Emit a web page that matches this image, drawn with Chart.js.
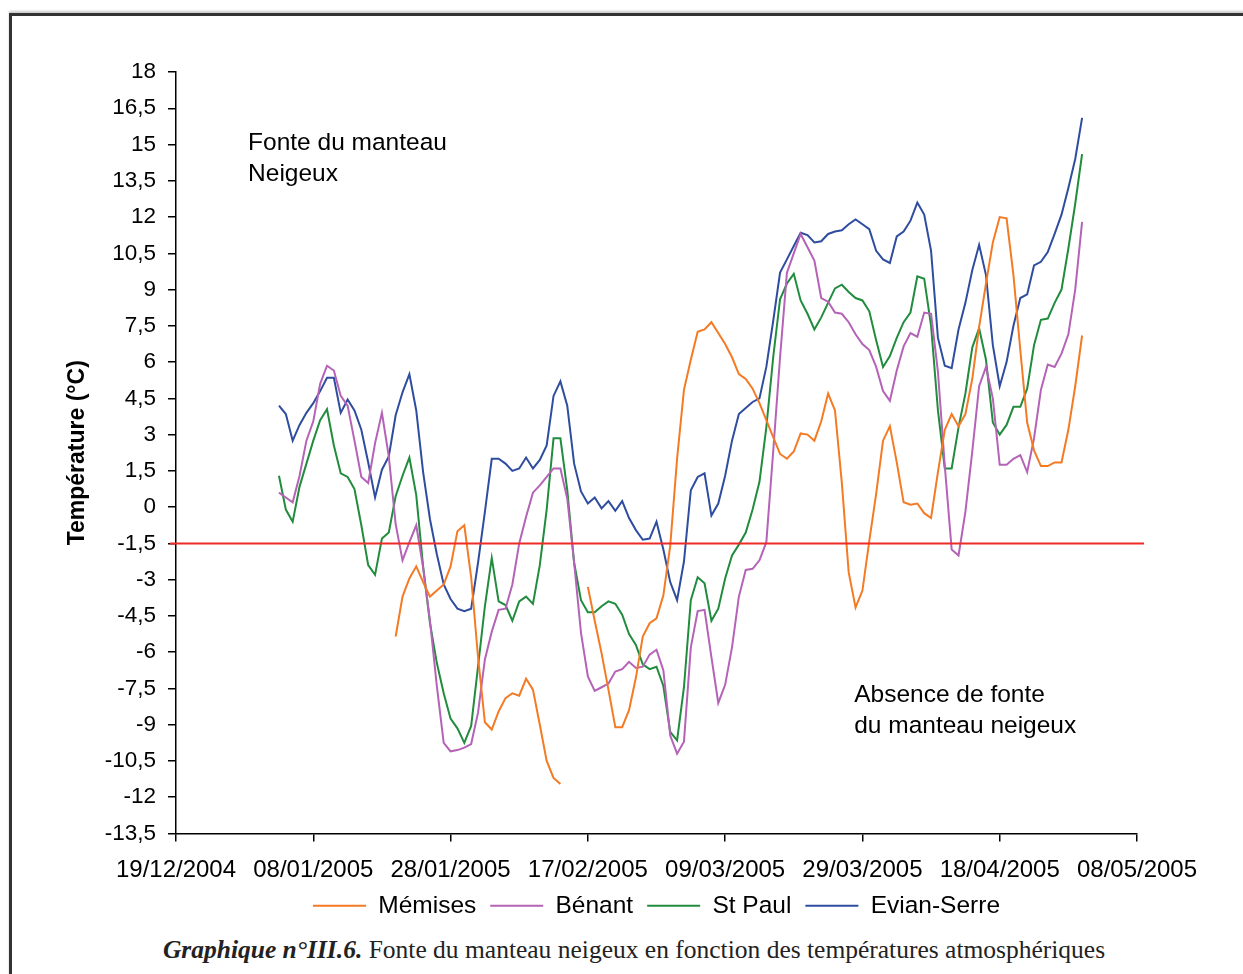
<!DOCTYPE html>
<html lang="fr">
<head>
<meta charset="utf-8">
<title>Graphique n°III.6</title>
<script src="https://cdn.jsdelivr.net/npm/chart.js@4.4.0/dist/chart.umd.min.js"></script>
<style>
  html, body { margin: 0; padding: 0; background: #fff; }
  body { width: 1243px; height: 974px; position: relative; overflow: hidden; }
  #cadre {
    position: absolute; left: 9px; top: 13px; width: 1250px; height: 980px;
    border-top: 3px solid #333; border-left: 3px solid #333;
    box-shadow: 0 -2px 2px #ccc;
  }
  #graph { position: absolute; left: 0; top: 0; }
  #legende {
    position: absolute; left: 0; width: 1268px; top: 935px;
    text-align: center; font-family: "Liberation Serif", "DejaVu Serif", serif;
    font-size: 25.5px; color: #222;
  }
</style>
</head>
<body>
<div id="cadre"></div>
<canvas id="graph" width="1243" height="930"></canvas>
<div id="legende"><b><i>Graphique n°III.6.</i></b> Fonte du manteau neigeux en fonction des températures atmosphériques</div>

<script>
  // jour 0 de l'axe = 19/12/2004, premiere mesure le 03/01/2005 (jour 15)
  const origine = Date.UTC(2004, 11, 19);
  const premierJour = 15;
  const seuilFonte = -1.5;

  const memises = [
    null, null, null, null, null, null, null, null, null, null,
    null, null, null, null, null, null, null, -5.35, -3.7, -2.95,
    -2.45, -3.1, -3.7, -3.45, -3.2, -2.45, -1.0, -0.75, -2.9, -6.2,
    -8.9, -9.2, -8.45, -7.9, -7.7, -7.8, -7.1, -7.55, -9.0, -10.5,
    -11.2, -11.45, null, null, null, -3.3, -4.7, -6.05, -7.55, -9.1,
    -9.1, -8.4, -7.05, -5.35, -4.8, -4.6, -3.65, -1.6, 2.0, 4.85,
    6.1, 7.25, 7.35, 7.65, 7.2, 6.75, 6.2, 5.5, 5.3, 4.9,
    4.3, 3.6, 2.9, 2.2, 2.0, 2.3, 3.05, 3.0, 2.75, 3.55,
    4.7, 4.0, 1.0, -2.7, -4.15, -3.45, -1.4, 0.55, 2.75, 3.35,
    1.85, 0.2, 0.1, 0.15, -0.25, -0.45, 1.45, 3.2, 3.85, 3.35,
    3.85, 5.3, 7.45, 9.25, 10.95, 12.0, 11.95, 9.6, 6.5, 3.5,
    2.35, 1.7, 1.7, 1.85, 1.85, 3.2, 5.0, 7.1
  ];

  const benant = [
    0.6, 0.4, 0.2, 1.3, 2.75, 3.55, 5.1, 5.85, 5.65, 4.6,
    4.2, 2.75, 1.25, 1.0, 2.65, 3.9, 2.1, -0.7, -2.2, -1.45,
    -0.75, -2.5, -4.7, -7.4, -9.75, -10.1, -10.05, -9.95, -9.8, -8.5,
    -6.3, -5.15, -4.25, -4.2, -3.2, -1.5, -0.4, 0.6, 0.9, 1.25,
    1.6, 1.6, 0.35, -2.3, -5.2, -7.0, -7.6, -7.45, -7.3, -6.8,
    -6.7, -6.4, -6.65, -6.6, -6.1, -5.9, -6.75, -9.45, -10.2, -9.7,
    -5.8, -4.3, -4.25, -6.2, -8.1, -7.35, -5.8, -3.7, -2.6, -2.55,
    -2.2, -1.45, 2.3, 6.2, 9.7, 10.5, 11.3, 10.75, 10.2, 8.65,
    8.5, 8.05, 8.0, 7.65, 7.15, 6.75, 6.5, 5.8, 4.8, 4.4,
    5.65, 6.65, 7.2, 7.05, 8.05, 8.0, 5.6, 1.7, -1.75, -2.0,
    -0.2, 2.3, 5.0, 5.8, 4.5, 1.75, 1.75, 2.0, 2.15, 1.45,
    2.85, 4.85, 5.9, 5.8, 6.35, 7.15, 9.0, 11.8
  ];

  const stPaul = [
    1.3, -0.1, -0.6, 0.85, 1.8, 2.75, 3.6, 4.05, 2.55, 1.4,
    1.25, 0.75, -0.75, -2.4, -2.8, -1.3, -1.05, 0.45, 1.3, 2.05,
    0.5, -2.45, -4.8, -6.45, -7.7, -8.75, -9.15, -9.75, -9.05, -6.6,
    -4.1, -2.1, -3.9, -4.05, -4.7, -3.9, -3.7, -4.0, -2.4, -0.1,
    2.85, 2.85, 0.7, -2.3, -3.85, -4.35, -4.35, -4.1, -3.9, -4.0,
    -4.45, -5.25, -5.7, -6.5, -6.7, -6.6, -7.4, -9.3, -9.65, -7.45,
    -3.85, -2.9, -3.15, -4.7, -4.2, -2.95, -2.0, -1.55, -1.05, -0.1,
    1.05, 3.3, 6.2, 8.6, 9.25, 9.65, 8.55, 8.0, 7.35, 7.85,
    8.45, 9.05, 9.2, 8.9, 8.65, 8.55, 8.1, 6.9, 5.8, 6.25,
    7.0, 7.65, 8.05, 9.55, 9.45, 7.5, 4.0, 1.6, 1.6, 3.3,
    4.7, 6.6, 7.4, 6.1, 3.5, 3.0, 3.4, 4.15, 4.15, 4.9,
    6.7, 7.75, 7.8, 8.45, 9.0, 10.7, 12.55, 14.6
  ];

  const evianSerre = [
    4.2, 3.85, 2.75, 3.4, 3.9, 4.3, 4.8, 5.35, 5.35, 3.9,
    4.45, 4.0, 3.2, 1.85, 0.4, 1.55, 2.1, 3.8, 4.75, 5.5,
    4.0, 1.45, -0.5, -1.95, -3.2, -3.8, -4.2, -4.3, -4.2, -2.3,
    -0.2, 2.0, 2.0, 1.8, 1.5, 1.6, 2.05, 1.6, 1.95, 2.55,
    4.6, 5.2, 4.2, 1.8, 0.65, 0.15, 0.4, -0.05, 0.25, -0.15,
    0.25, -0.45, -0.95, -1.35, -1.3, -0.6, -1.75, -3.1, -3.85, -2.25,
    0.7, 1.25, 1.4, -0.35, 0.15, 1.3, 2.75, 3.85, 4.1, 4.35,
    4.5, 5.8, 7.7, 9.7, 10.25, 10.8, 11.35, 11.25, 10.95, 11.0,
    11.3, 11.4, 11.45, 11.7, 11.9, 11.7, 11.5, 10.6, 10.25, 10.1,
    11.2, 11.4, 11.85, 12.6, 12.1, 10.6, 7.0, 5.85, 5.75, 7.35,
    8.45, 9.8, 10.85, 9.6, 6.7, 5.0, 6.0, 7.5, 8.65, 8.8,
    10.0, 10.15, 10.55, 11.3, 12.1, 13.2, 14.4, 16.1
  ];

  const series = [
    { nom: 'Mémises', valeurs: memises, couleur: '#f47a24' },
    { nom: 'Bénant', valeurs: benant, couleur: '#b463b6' },
    { nom: 'St Paul', valeurs: stPaul, couleur: '#218c3e' },
    { nom: 'Evian-Serre', valeurs: evianSerre, couleur: '#2f4d9f' }
  ];

  function enPoints(valeurs) {
    return valeurs.map((v, i) => ({ x: premierJour + i, y: v }));
  }

  function formatDate(jour) {
    const d = new Date(origine + jour * 86400000);
    const jj = String(d.getUTCDate()).padStart(2, '0');
    const mm = String(d.getUTCMonth() + 1).padStart(2, '0');
    return jj + '/' + mm + '/' + d.getUTCFullYear();
  }

  // ligne rouge du seuil de fonte
  const seuilPlugin = {
    id: 'seuil',
    afterDatasetsDraw(chart) {
      const { ctx, chartArea, scales } = chart;
      const y = scales.y.getPixelForValue(seuilFonte);
      ctx.save();
      ctx.strokeStyle = '#ee2b24';
      ctx.lineWidth = 2;
      ctx.beginPath();
      ctx.moveTo(chartArea.left - 6, y);
      ctx.lineTo(chartArea.right + 7, y);
      ctx.stroke();
      ctx.restore();
    }
  };

  // textes dans le graphique
  const textesPlugin = {
    id: 'textes',
    afterDraw(chart) {
      const { ctx, scales } = chart;
      const blocs = [
        { x: 10.5, y: 15.05, lignes: ['Fonte du manteau', 'Neigeux'] },
        { x: 98.8, y: -7.8, lignes: ['Absence de fonte', 'du manteau neigeux'] }
      ];
      ctx.save();
      ctx.fillStyle = '#000';
      ctx.font = '24.5px "Liberation Sans", Arial, sans-serif';
      ctx.textBaseline = 'middle';
      ctx.textAlign = 'left';
      blocs.forEach(b => {
        const px = scales.x.getPixelForValue(b.x);
        const py = scales.y.getPixelForValue(b.y);
        b.lignes.forEach((t, k) => ctx.fillText(t, px, py + k * 31));
      });
      ctx.restore();
    }
  };

  const ctx = document.getElementById('graph').getContext('2d');
  new Chart(ctx, {
    type: 'line',
    data: {
      datasets: series.map(s => ({
        label: s.nom,
        data: enPoints(s.valeurs),
        borderColor: s.couleur,
        backgroundColor: s.couleur,
        borderWidth: 2,
        pointRadius: 0,
        tension: 0,
        spanGaps: false
      }))
    },
    options: {
      responsive: false,
      animation: false,
      layout: { padding: { left: 0, right: 106, top: 72, bottom: 2 } },
      scales: {
        x: {
          type: 'linear',
          min: 0,
          max: 140,
          afterFit: s => { s.height = 46; },
          ticks: {
            stepSize: 20,
            autoSkip: false,
            maxRotation: 0,
            padding: 14,
            color: '#000',
            font: { family: '"Liberation Sans", Arial, sans-serif', size: 24 },
            callback: v => formatDate(v)
          },
          grid: { drawOnChartArea: false, drawTicks: true, tickLength: 8, color: '#000', lineWidth: 1.5 },
          border: { color: '#000', width: 1.5 }
        },
        y: {
          min: -13.5,
          max: 18,
          afterFit: s => { s.width = 176; },
          ticks: {
            stepSize: 1.5,
            padding: 12,
            color: '#000',
            font: { family: '"Liberation Sans", Arial, sans-serif', size: 22.5 },
            callback: v => String(v).replace('.', ',')
          },
          title: {
            display: true,
            text: 'Température (°C)',
            color: '#000',
            font: { family: '"Liberation Sans", Arial, sans-serif', size: 23, weight: 'bold' },
            padding: { top: 64, bottom: 0 }
          },
          grid: { drawOnChartArea: false, drawTicks: true, tickLength: 8, color: '#000', lineWidth: 1.5 },
          border: { color: '#000', width: 1.5 }
        }
      },
      plugins: {
        legend: {
          position: 'bottom',
          fullSize: false,
          labels: {
            usePointStyle: true,
            pointStyle: 'line',
            pointStyleWidth: 53,
            padding: 14,
            color: '#000',
            font: { family: '"Liberation Sans", Arial, sans-serif', size: 24.5 }
          }
        },
        tooltip: { enabled: false }
      }
    },
    plugins: [seuilPlugin, textesPlugin]
  });
</script>
</body>
</html>
